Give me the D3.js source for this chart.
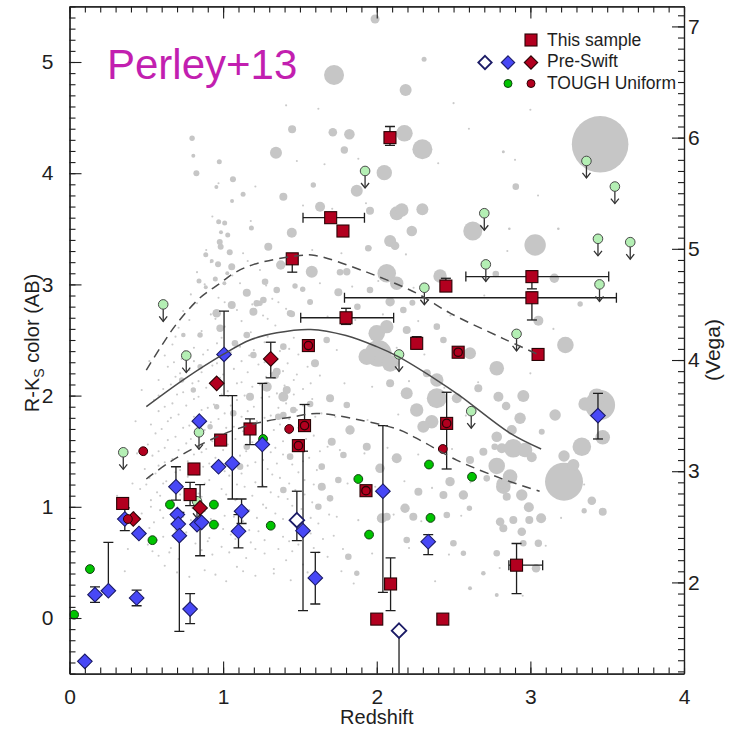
<!DOCTYPE html>
<html>
<head>
<meta charset="utf-8">
<script src="https://cdn.jsdelivr.net/npm/d3@7"></script>
<style>
  body { margin: 0; background: #fff; }
  svg { display: block; }
</style>
</head>
<body>
<svg id="chart" width="731" height="730"></svg>
<script>
// ---------- axis ticks ----------
const xTicks = [0, 1, 2, 3, 4];
const yTicks = [0, 1, 2, 3, 4, 5];
const vegaTicks = [2, 3, 4, 5, 6, 7];
const vegaOffset = 1.68;            // (R-K)Vega = (R-K)AB + offset

// ---------- legend ----------
const legendLabels = ["This sample", "Pre-Swift", "TOUGH Uniform"];

// ---------- GRB hosts: [z, colour, colourLo, colourHi, zLo, zHi, inTOUGH] ----------
const thisSample = [
  [0.346, 1.03, null, null, null, null, 0],
  [0.785, 1.11, 1.01, 1.22, null, null, 0],
  [0.81, 1.34, null, null, null, null, 0],
  [0.984, 1.60, null, null, null, null, 0],
  [1.175, 1.70, 1.56, 1.79, null, null, 0],
  [1.45, 3.23, 3.11, 3.27, null, null, 0],
  [1.49, 1.55, 1.50, 1.60, null, null, 1],
  [1.53, 1.73, 1.68, 1.92, null, null, 1],
  [1.555, 2.45, null, null, null, null, 1],
  [1.70, 3.60, null, null, 1.52, 1.92, 0],
  [1.78, 3.48, null, null, null, null, 0],
  [1.80, 2.70, 2.64, 2.785, 1.505, 2.11, 0],
  [1.93, 1.145, null, null, null, null, 1],
  [2.0, -0.01, null, null, null, null, 0],
  [2.086, 4.32, 4.25, 4.42, null, null, 0],
  [2.09, 0.306, 0.066, 0.54, null, null, 0],
  [2.26, 2.47, 2.42, 2.53, null, null, 0],
  [2.43, -0.01, null, null, null, null, 0],
  [2.45, 2.985, 2.94, 3.055, null, null, 0],
  [2.455, 1.75, 1.34, 2.03, null, null, 1],
  [2.53, 2.39, null, null, null, null, 1],
  [2.91, 0.475, 0.22, 0.67, 2.86, 3.08, 0],
  [3.01, 3.07, 2.96, 3.12, 2.58, 3.51, 0],
  [3.01, 2.88, 2.68, 2.93, 1.79, 3.56, 0],
  [3.05, 2.37, null, null, null, null, 0]
];

// Pre-Swift hosts: [z, colour, colourLo, colourHi]
const preSwiftBlue = [
  [0.10, -0.39], [0.166, 0.21, 0.14, 0.28], [0.253, 0.245, 0.245, 0.68],
  [0.437, 0.18, 0.11, 0.25], [0.36, 0.89, 0.785, 0.99], [0.452, 0.76],
  [0.693, 1.18, 1.06, 1.36], [0.702, 0.93], [0.708, 0.845],
  [0.715, 0.74, -0.12, 0.95], [0.785, 0.08, -0.05, 0.22], [0.83, 0.84],
  [0.86, 0.86], [0.845, 1.77], [0.97, 1.36], [1.006, 2.37, 2.0, 2.76],
  [1.06, 1.39, 1.07, 2.0], [1.12, 0.96, 0.85, 1.07], [1.10, 0.78, 0.63, 0.93],
  [1.255, 1.56, 1.18, 2.11], [1.52, 0.785, 0.066, 1.5], [1.60, 0.36, 0.126, 0.59],
  [2.04, 1.14, 0.23, 1.73], [2.335, 0.686, 0.57, 0.75], [3.44, 1.82, 1.61, 2.02]
];
const preSwiftOpen = [[1.48, 0.88, 0.695, 1.14], [2.145, -0.114, -0.7, -0.114]];
const preSwiftRed = [[0.415, 0.89], [0.85, 0.99, 0.56, 1.20], [0.958, 2.11], [1.31, 2.33, 2.16, 2.48]];

// TOUGH: detections, red (also in this sample) and upper limits
const toughGreen = [
  [0.03, 0.03], [0.133, 0.44], [0.54, 0.70], [0.654, 1.02], [0.94, 1.02], [0.94, 0.84],
  [1.26, 1.61], [1.31, 0.83], [1.88, 1.25], [1.95, 0.75], [2.34, 1.38], [2.35, 0.90], [2.62, 1.27]
];
const toughRed = [[0.38, 0.89], [0.48, 1.50], [1.43, 1.70], [2.43, 1.52]];
const toughLimits = [
  [0.35, 1.49], [0.61, 2.82], [0.76, 2.36], [0.843, 1.67], [0.83, 1.05], [1.924, 4.02],
  [2.145, 2.37], [2.31, 2.97], [2.615, 1.86], [2.70, 3.64], [2.71, 3.18], [2.91, 2.555],
  [3.365, 4.11], [3.44, 3.41], [3.45, 3.00], [3.55, 3.88], [3.65, 3.38]
];

// model colour tracks: [z, colour]
const trackMid = [[0.5,1.90],[0.75,2.15],[1.0,2.37],[1.175,2.50],[1.35,2.565],[1.57,2.595],[1.8,2.54],[2.0,2.44],[2.14,2.35],[2.39,2.14],[2.54,2.0],[2.87,1.66],[3.07,1.52]];
const trackHigh = [[0.5,2.23],[0.6,2.45],[0.7,2.65],[0.85,2.88],[0.98,3.01],[1.07,3.10],[1.2,3.18],[1.5,3.26],[1.6,3.26],[1.935,3.11],[2.26,2.92],[2.48,2.74],[2.82,2.515],[3.05,2.37]];
const trackLow = [[0.5,1.25],[0.65,1.40],[0.87,1.57],[1.07,1.69],[1.26,1.765],[1.46,1.81],[1.61,1.84],[1.89,1.78],[2.15,1.69],[2.30,1.585],[2.52,1.42],[2.82,1.25],[3.06,1.14]];

// field galaxies: [z, colour, size]
const fieldGalaxies = [
  [3.454,4.26,28.3],[3.219,1.226,19],[2.010,2.380,13.3],[3.454,1.915,15],[1.722,4.883,10],[1.989,5.387,4.5],
  [2.188,4.748,6],[2.308,5.024,2.5],[2.297,4.215,10],[2.180,4.359,8.3],[2.049,4.005,7.7],[1.870,3.843,6],
  [1.822,4.35,5.3],[1.714,4.368,4.3],[1.449,4.395,4],[1.344,4.184,6],[1.789,4.209,3.7],[1.392,3.789,4],
  [1.631,3.699,5],[1.956,3.663,4],[2.130,3.639,7],[2.163,3.669,6.7],[2.297,3.675,6],[2.228,3.480,5.3],
  [2.087,3.390,6],[2.119,3.348,4.3],[2.625,3.480,9.5],[1.447,3.465,5],[1.294,3.339,4],[1.945,3.325,3.3],
  [1.587,3.894,2.7],[2.065,3.100,9.3],[2.130,3.010,6.7],[1.577,3.114,6],[1.761,3.109,3.3],[1.805,3.114,3.7],
  [1.375,3.174,4.7],[1.273,3.024,3.3],[1.518,2.956,2.7],[1.468,2.986,2.7],[1.750,2.929,4],[1.956,2.950,3.3],
  [2.087,2.844,4.7],[2.232,2.835,3],[2.412,3.076,6.7],[1.874,2.799,3.3],[1.566,2.842,3],[1.219,2.830,3.3],
  [1.447,2.734,3.3],[2.0,2.560,8.3],[2.065,2.620,6.7],[1.935,2.350,8.3],[2.087,2.290,8.3],[2.195,2.590,4],
  [2.391,2.620,3.3],[2.781,2.246,7.3],[2.607,2.380,6],[1.674,2.500,3.3],[1.392,2.440,3.3],[1.598,2.290,4],
  [1.349,2.215,4],[1.262,2.860,3.3],[1.826,2.725,3],[2.173,2.770,3.3],[2.434,2.500,3.3],[2.326,2.201,4],
  [1.696,1.976,4],[1.566,1.924,3.3],[1.805,1.915,3.3],[2.087,2.111,4],[2.260,1.871,6.7],[2.195,2.021,6],
  [2.391,1.976,10],[2.358,1.765,6.7],[2.303,1.720,6],[2.521,1.976,5],[2.661,2.066,4],[2.781,1.367,8.3],
  [2.824,1.181,7.3],[2.814,1.526,5],[2.694,1.496,4],[2.607,1.421,4],[2.477,1.226,4.7],[2.564,1.106,4.7],
  [2.434,1.106,4],[2.271,1.136,4],[2.184,0.987,4.7],[2.238,0.911,4],[2.456,0.926,3.3],[2.499,0.672,3.3],
  [2.781,0.582,3.3],[2.564,0.582,2.7],[2.694,0.402,2.3],[2.607,0.267,2],[2.781,0.207,2],[2.195,0.701,3.3],
  [2.065,0.911,4],[2.021,1.346,4.7],[2.130,1.436,5],[1.935,1.540,4],[1.826,1.691,4.7],[1.707,1.585,4],
  [1.783,1.466,3.3],[1.642,1.361,3.3],[1.750,1.241,3.3],[1.696,1.076,3.3],[1.642,1.181,4],[1.620,1.001,3.3],
  [1.392,1.990,5],[1.284,2.080,5],[1.392,1.151,3.3],[1.815,0.551,3.3],[1.870,0.402,2.7],[2.033,0.897,5],
  [1.392,1.826,3.3],[2.781,1.630,5.3],[2.391,2.140,6.7],[2.905,3.879,3.3],[2.824,4.193,1.5],[3.031,3.354,10.7],
  [3.156,3.055,4.7],[2.775,3.094,3.3],[3.324,2.824,2.7],[3.052,2.674,5],[3.228,2.455,8.3],[2.954,1.996,6],
  [2.792,1.990,5],[3.432,1.990,8.3],[2.863,3.50,1.3],[3.182,3.50,1.3],[3.356,1.924,6.7],[3.471,1.625,7.3],
  [3.335,1.540,9.3],[3.280,1.376,6],[3.161,1.826,5.7],[3.219,1.457,5.7],[2.933,1.796,5.7],[2.842,1.906,4.3],
  [2.879,1.691,5],[2.889,1.526,9.3],[2.965,1.511,7.3],[3.009,1.445,5],[2.868,1.271,7.3],[2.814,1.211,5.3],
  [2.944,1.106,5.7],[2.846,1.091,4],[3.074,1.675,3],[2.990,0.996,5],[3.070,0.897,5],[2.993,0.881,4],
  [2.889,0.881,4],[2.803,0.866,4.3],[2.824,0.807,4],[2.944,0.776,4.3],[3.052,0.672,3.7],[3.037,0.447,4.3],
  [2.954,0.672,3.3],[3.400,1.055,4.3],[3.471,0.956,4],[3.350,0.965,2.7],[2.716,1.256,3.3],[2.768,1.540,3.3],
  [2.603,0.987,2.7],[1.154,2.925,4],[1.197,2.754,4],[0.958,2.740,4.3],[0.980,2.605,3.7],[1.056,2.815,4],
  [1.240,2.830,2.7],[1.436,2.740,3.3],[1.349,2.950,3.3],[1.175,1.990,4],[1.414,2.050,4],[1.338,2.185,4],
  [1.197,2.365,3.3],[1.154,2.545,3.3],[1.077,2.470,3.3],[0.806,2.050,2.7],[0.958,1.900,2.7],[1.066,1.841,3.3],
  [1.154,1.540,3.3],[1.359,1.810,3.3],[1.457,1.871,3.3],[1.436,1.451,3.3],[1.110,1.361,3.3],[0.915,1.720,2.7],
  [0.850,2.545,2.7],[0.741,2.545,2.3],[0.850,2.260,2.7],[0.730,2.140,2.7],[0.798,4.314,2.7],[0.806,4.157,2],
  [0.826,3.999,3],[0.975,4.103,2.5],[1.064,3.945,3],[0.956,3.876,2],[1.130,3.810,2.5],[1.058,3.750,2],
  [1.184,3.507,2.5],[0.971,3.564,2.5],[1.010,3.552,2.5],[0.986,3.469,2],[1.030,3.444,2.5],[0.978,3.381,3],
  [0.984,3.339,3],[1.043,3.289,3],[0.887,3.267,2.5],[0.926,3.210,2],[0.967,3.181,3],[1.056,3.159,3.5],
  [0.843,3.031,2.5],[0.949,3.049,2.5],[1.027,3.100,2],[1.008,3.010,2],[0.887,2.974,2]
];

// faint field population: "z colour" pairs
const fieldDotText = `
0.78 0.37 1.02 0.33 1.21 0.38 1.44 0.34 1.63 0.36
0.62 0.47 0.88 0.43 1.09 0.46 1.33 0.44 1.52 0.48 1.77 0.42
0.58 0.56 0.71 0.53 0.93 0.57 1.15 0.54 1.27 0.58 1.41 0.52 1.68 0.55
0.51 0.66 0.66 0.63 0.82 0.67 0.99 0.64 1.18 0.68 1.36 0.62 1.49 0.66 1.59 0.63
0.49 0.76 0.61 0.73 0.76 0.77 0.91 0.72 1.05 0.75 1.23 0.78 1.39 0.73 1.57 0.76 1.72 0.74
0.55 0.86 0.68 0.83 0.79 0.88 0.97 0.84 1.13 0.87 1.29 0.82 1.46 0.86 1.62 0.85
0.47 0.94 0.59 0.97 0.73 0.93 0.88 0.96 1.01 0.92 1.17 0.97 1.34 0.94 1.51 0.98 1.69 0.93
0.53 1.06 0.64 1.03 0.78 1.07 0.93 1.04 1.08 1.06 1.26 1.02 1.42 1.07 1.58 1.04
0.46 1.16 0.57 1.13 0.69 1.17 0.84 1.12 0.99 1.16 1.14 1.18 1.31 1.13 1.47 1.15 1.66 1.17
0.52 1.26 0.63 1.23 0.77 1.27 0.91 1.24 1.04 1.28 1.21 1.22 1.37 1.26 1.53 1.24
0.49 1.34 0.58 1.37 0.72 1.33 0.87 1.36 1.01 1.32 1.16 1.37 1.29 1.34 1.45 1.38 1.61 1.33
0.54 1.46 0.67 1.43 0.81 1.47 0.95 1.44 1.11 1.46 1.26 1.42 1.39 1.47 1.56 1.44
0.51 1.56 0.62 1.53 0.76 1.57 0.89 1.52 1.03 1.56 1.19 1.58 1.34 1.53 1.49 1.57 1.68 1.54
0.56 1.66 0.69 1.63 0.83 1.67 0.97 1.64 1.13 1.68 1.28 1.62 1.43 1.66 1.59 1.64
0.53 1.74 0.64 1.77 0.78 1.73 0.92 1.76 1.07 1.72 1.22 1.77 1.37 1.74 1.54 1.78
0.58 1.86 0.71 1.83 0.86 1.87 1.01 1.84 1.16 1.86 1.31 1.82 1.48 1.87 1.64 1.84
0.55 1.96 0.67 1.93 0.81 1.97 0.94 1.92 1.09 1.96 1.25 1.98 1.41 1.93 1.58 1.97
0.61 2.06 0.74 2.03 0.89 2.07 1.03 2.04 1.19 2.08 1.35 2.02 1.52 2.06
0.58 2.14 0.69 2.17 0.84 2.13 0.98 2.16 1.12 2.12 1.28 2.17 1.46 2.14 1.63 2.18
0.64 2.26 0.78 2.23 0.93 2.27 1.07 2.24 1.23 2.28 1.39 2.22 1.55 2.26
0.62 2.36 0.73 2.33 0.87 2.37 1.02 2.34 1.17 2.36 1.33 2.32 1.49 2.37
0.67 2.46 0.81 2.43 0.96 2.47 1.11 2.44 1.27 2.48 1.43 2.42
0.71 2.61 0.86 2.58 1.01 2.62 1.18 2.57 1.34 2.63
0.74 2.76 0.92 2.73 1.09 2.77 1.26 2.72 1.41 2.78
0.79 2.91 0.97 2.88 1.15 2.93 1.32 2.87
0.83 3.11 1.06 3.08 1.24 3.13 0.89 3.31 1.13 3.28 1.31 3.33
0.93 3.61 1.18 3.57 0.97 3.91 1.21 3.88
1.85 0.31 2.12 0.28 2.38 0.33 1.78 0.62 1.97 0.58 2.21 0.63 2.47 0.57
1.74 0.91 1.88 0.88 2.11 0.93 2.29 0.87 2.55 0.92 1.81 1.21 1.99 1.18 2.18 1.23 2.36 1.17 2.61 1.22
1.76 1.51 1.92 1.48 2.07 1.53 2.27 1.47 2.49 1.52 2.70 1.49 1.73 1.81 1.94 1.78 2.14 1.83 2.33 1.77 2.58 1.82
1.79 2.11 1.97 2.08 2.21 2.13 2.44 2.07 2.66 2.12 1.74 2.41 1.91 2.38 2.13 2.43 2.31 2.37 2.55 2.42
1.68 2.71 1.86 2.68 2.04 2.73 2.27 2.67 2.48 2.72 1.63 3.01 1.84 2.98 2.01 3.03 2.24 2.97
1.58 3.31 1.77 3.28 1.96 3.33 2.19 3.27 1.52 3.71 1.71 3.68 1.93 3.73
1.48 4.11 1.66 4.08 1.88 4.13 2.40 4.09 2.90 4.12 1.41 4.61 1.62 4.58 2.50 4.63 3.00 4.57
0.38 0.62 0.42 0.95 0.41 1.21 0.44 1.48 0.43 1.77 0.31 1.10 0.36 0.42 0.47 2.05 0.52 2.31
2.80 0.45 2.95 0.20 3.10 0.65 3.20 0.90 3.35 1.20 3.00 2.20 3.15 2.60 2.70 2.90 2.85 3.30 3.05 3.80 2.60 4.40
0.70 0.41 0.95 0.39 1.13 0.42 1.33 0.40 1.55 0.41
0.54 0.60 0.65 0.59 0.86 0.61 1.04 0.59 1.21 0.62 1.45 0.60 1.62 0.59
0.57 0.70 0.74 0.71 0.90 0.69 1.08 0.71 1.27 0.70 1.43 0.69 1.65 0.71
0.52 0.81 0.69 0.79 0.84 0.81 1.00 0.80 1.17 0.79 1.33 0.81 1.52 0.80
0.61 0.90 0.74 0.91 0.92 0.89 1.07 0.91 1.22 0.90 1.39 0.89 1.57 0.90
0.53 1.00 0.66 1.01 0.80 0.99 0.95 1.01 1.11 1.00 1.28 0.99 1.45 1.01 1.63 1.00
0.59 1.10 0.72 1.11 0.86 1.09 1.02 1.11 1.19 1.10 1.36 1.09 1.53 1.11
0.50 1.20 0.61 1.21 0.73 1.19 0.88 1.21 1.09 1.20 1.26 1.19 1.43 1.21 1.59 1.20
0.56 1.30 0.69 1.31 0.83 1.29 0.97 1.31 1.12 1.30 1.32 1.29 1.49 1.31
0.62 1.40 0.77 1.41 0.91 1.39 1.06 1.41 1.21 1.40 1.35 1.39 1.52 1.41
0.58 1.50 0.71 1.51 0.86 1.49 1.00 1.51 1.15 1.50 1.31 1.49 1.46 1.51 1.63 1.50
0.64 1.60 0.79 1.61 0.93 1.59 1.08 1.61 1.24 1.60 1.39 1.59 1.54 1.61
0.60 1.70 0.74 1.71 0.88 1.69 1.02 1.71 1.18 1.70 1.33 1.69 1.49 1.71
0.66 1.80 0.81 1.81 0.97 1.79 1.12 1.81 1.27 1.80 1.43 1.79 1.60 1.81
0.62 1.90 0.76 1.91 0.90 1.89 1.05 1.91 1.20 1.90 1.36 1.89 1.52 1.91
0.58 2.00 0.70 2.01 0.84 1.99 0.99 2.01 1.14 2.00 1.30 1.99 1.46 2.01
0.66 2.10 0.80 2.11 0.94 2.09 1.09 2.11 1.24 2.10 1.40 2.09 1.57 2.11
0.72 2.20 0.86 2.21 1.00 2.19 1.16 2.21 1.31 2.20 1.48 2.19
0.68 2.30 0.81 2.31 0.96 2.29 1.12 2.31 1.27 2.30 1.42 2.29
0.75 2.40 0.90 2.41 1.05 2.39 1.20 2.41 1.37 2.40
0.69 2.53 0.84 2.54 0.99 2.52 1.14 2.54 1.29 2.53 1.46 2.52
0.78 2.68 0.95 2.69 1.12 2.67 1.29 2.69
0.83 2.83 1.01 2.84 1.19 2.82 1.36 2.84
0.88 3.00 1.11 3.01 1.28 2.99 0.92 3.20 1.16 3.21
`;

// ---------- drawing ----------
const W = 731, H = 730;
const frame = { left: 69.5, right: 684, top: 6.4, bottom: 673.6 };
const FONT = "'Liberation Sans', Arial, Helvetica, sans-serif";
const RED = "#b2001f", RED_EDGE = "#2a0305";
const BLUE = "#4848f6", BLUE_EDGE = "#1b1b66";
const GREEN = "#00c400", GREEN_EDGE = "#124012";
const PALE = "#b4efb4", PALE_EDGE = "#4a4a4a";
const GREY = "#c6c6c6";
const INK = "#1e1e1e";

const x = d3.scaleLinear().domain([0, 4]).range([frame.left, frame.right]);
const y = d3.scaleLinear().domain([-0.5, 5.5]).range([frame.bottom, frame.top]);
const yVega = d3.scaleLinear().domain(y.domain().map(v => v + vegaOffset)).range([frame.bottom, frame.top]);
const rSize = d3.scaleLinear().domain([0, 30]).range([0, 30]);

const svg = d3.select("#chart");
svg.append("rect").attr("width", W).attr("height", H).attr("fill", "#fff");

svg.append("defs").append("clipPath").attr("id", "plotArea")
  .append("rect").attr("x", frame.left).attr("y", frame.top)
  .attr("width", frame.right - frame.left).attr("height", frame.bottom - frame.top);

const plot = svg.append("g").attr("clip-path", "url(#plotArea)");

// faint field population
const nums = fieldDotText.trim().split(/\s+/).map(Number);
const fieldDots = d3.range(0, nums.length, 2).map(i => [nums[i], nums[i + 1]]);
plot.append("g").selectAll("circle").data(fieldDots).join("circle")
  .attr("cx", d => x(d[0])).attr("cy", d => y(d[1])).attr("r", 1.05).attr("fill", "#cacaca");

// field galaxies sized by their weight
plot.append("g").selectAll("circle").data(fieldGalaxies).join("circle")
  .attr("cx", d => x(d[0])).attr("cy", d => y(d[1])).attr("r", d => rSize(d[2])).attr("fill", GREY);

// error bars
const errG = plot.append("g").attr("stroke", INK).attr("stroke-width", 1.3).attr("fill", "none");
const CAP = 5;
function vBar(z, lo, hi) {
  if (lo == null || hi == null) return;
  const px = x(z);
  errG.append("line").attr("x1", px).attr("x2", px).attr("y1", y(lo)).attr("y2", y(hi));
  [lo, hi].forEach(v => errG.append("line").attr("x1", px - CAP).attr("x2", px + CAP).attr("y1", y(v)).attr("y2", y(v)));
}
function hBar(c, lo, hi) {
  if (lo == null || hi == null) return;
  const py = y(c);
  errG.append("line").attr("x1", x(lo)).attr("x2", x(hi)).attr("y1", py).attr("y2", py);
  [lo, hi].forEach(v => errG.append("line").attr("x1", x(v)).attr("x2", x(v)).attr("y1", py - CAP).attr("y2", py + CAP));
}
preSwiftBlue.forEach(d => vBar(d[0], d[2], d[3]));
preSwiftOpen.forEach(d => vBar(d[0], d[2], d[3]));
preSwiftRed.forEach(d => vBar(d[0], d[2], d[3]));
thisSample.forEach(d => { vBar(d[0], d[2], d[3]); hBar(d[1], d[4], d[5]); });

// marker shapes
function square(g, cx, cy, s) {
  g.append("rect").attr("x", cx - s / 2).attr("y", cy - s / 2).attr("width", s).attr("height", s)
    .attr("fill", RED).attr("stroke", RED_EDGE).attr("stroke-width", 1.1);
}
function diamond(g, cx, cy, h, fill, edge, sw) {
  g.append("path").attr("d", `M${cx},${cy - h}L${cx + h},${cy}L${cx},${cy + h}L${cx - h},${cy}Z`)
    .attr("fill", fill).attr("stroke", edge).attr("stroke-width", sw);
}
function dot(g, cx, cy, r, fill, edge, sw = 1) {
  g.append("circle").attr("cx", cx).attr("cy", cy).attr("r", r)
    .attr("fill", fill).attr("stroke", edge).attr("stroke-width", sw);
}
function limit(g, cx, cy) {
  g.append("line").attr("x1", cx).attr("x2", cx).attr("y1", cy).attr("y2", cy + 17)
    .attr("stroke", "#333").attr("stroke-width", 1.3);
  g.append("path").attr("d", `M${cx - 4},${cy + 12}L${cx},${cy + 17}L${cx + 4},${cy + 12}`)
    .attr("fill", "none").attr("stroke", "#333").attr("stroke-width", 1.3);
  dot(g, cx, cy, 4.8, PALE, PALE_EDGE);
}

const marks = plot.append("g");
toughLimits.forEach(d => limit(marks, x(d[0]), y(d[1])));
toughGreen.forEach(d => dot(marks, x(d[0]), y(d[1]), 4.4, GREEN, GREEN_EDGE));
preSwiftBlue.forEach(d => diamond(marks, x(d[0]), y(d[1]), 7.3, BLUE, BLUE_EDGE, 1.1));
preSwiftOpen.forEach(d => diamond(marks, x(d[0]), y(d[1]), 7.3, "#fff", BLUE_EDGE, 1.8));
preSwiftRed.forEach(d => diamond(marks, x(d[0]), y(d[1]), 7.3, RED, RED_EDGE, 1.1));
toughRed.forEach(d => dot(marks, x(d[0]), y(d[1]), 4.4, RED, RED_EDGE));
thisSample.forEach(d => {
  square(marks, x(d[0]), y(d[1]), 12);
  if (d[6]) dot(marks, x(d[0]), y(d[1]), 4.2, RED, RED_EDGE, 1.3);
});

// model colour tracks
const track = d3.line().x(d => x(d[0])).y(d => y(d[1])).curve(d3.curveCatmullRom.alpha(0.5));
const tracks = plot.append("g").attr("fill", "none").attr("stroke", "#4a4a4a").attr("stroke-width", 1.5);
tracks.append("path").attr("d", track(trackMid));
tracks.append("path").attr("d", track(trackHigh)).attr("stroke-dasharray", "9,6");
tracks.append("path").attr("d", track(trackLow)).attr("stroke-dasharray", "9,6");

// axes with inward ticks
function finish(g) {
  g.selectAll("path.domain").attr("stroke", INK).attr("stroke-width", 1.2);
  g.selectAll(".tick line").attr("stroke", INK).attr("stroke-width", 1.1);
  g.selectAll(".tick text").attr("font-family", FONT).attr("font-size", 21).attr("fill", INK);
}
const minorZ = d3.range(0, 41).map(i => i / 10);
const minorAB = d3.range(-5, 56).map(i => i / 10);
const minorVega = d3.range(12, 72).map(i => i / 10);
const none = () => "";

svg.append("g").attr("transform", `translate(0,${frame.bottom})`)
  .call(d3.axisBottom(x).tickValues(minorZ).tickSize(-6).tickSizeOuter(0).tickFormat(none)).call(finish);
svg.append("g").attr("transform", `translate(0,${frame.bottom})`)
  .call(d3.axisBottom(x).tickValues(xTicks).tickSize(-12).tickSizeOuter(0).tickPadding(15).tickFormat(d3.format("d"))).call(finish);
svg.append("g").attr("transform", `translate(0,${frame.top})`)
  .call(d3.axisTop(x).tickValues(minorZ).tickSize(-6).tickSizeOuter(0).tickFormat(none)).call(finish);
svg.append("g").attr("transform", `translate(0,${frame.top})`)
  .call(d3.axisTop(x).tickValues(xTicks).tickSize(-12).tickSizeOuter(0).tickFormat(none)).call(finish);
svg.append("g").attr("transform", `translate(${frame.left},0)`)
  .call(d3.axisLeft(y).tickValues(minorAB).tickSize(-6).tickSizeOuter(0).tickFormat(none)).call(finish);
svg.append("g").attr("transform", `translate(${frame.left},0)`)
  .call(d3.axisLeft(y).tickValues(yTicks).tickSize(-12).tickSizeOuter(0).tickPadding(16).tickFormat(d3.format("d"))).call(finish);
svg.append("g").attr("transform", `translate(${frame.right},0)`)
  .call(d3.axisRight(yVega).tickValues(minorVega).tickSize(-6).tickSizeOuter(0).tickFormat(none)).call(finish);
svg.append("g").attr("transform", `translate(${frame.right},0)`)
  .call(d3.axisRight(yVega).tickValues(vegaTicks).tickSize(-12).tickSizeOuter(0).tickPadding(4).tickFormat(d3.format("d"))).call(finish);

// axis titles
svg.append("text").attr("x", (frame.left + frame.right) / 2).attr("y", 724)
  .attr("text-anchor", "middle").attr("font-family", FONT).attr("font-size", 20).attr("fill", INK)
  .text("Redshift");
const yt = svg.append("text").attr("transform", "translate(39,343) rotate(-90)")
  .attr("text-anchor", "middle").attr("font-family", FONT).attr("font-size", 20).attr("fill", INK);
yt.append("tspan").text("R-K");
yt.append("tspan").attr("font-size", 14).attr("dy", 5).text("S");
yt.append("tspan").attr("dy", -5).text(" color (AB)");
svg.append("text").attr("transform", "translate(720,350) rotate(-90)")
  .attr("text-anchor", "middle").attr("font-family", FONT).attr("font-size", 21).attr("fill", INK)
  .text("(Vega)");

// tag
svg.append("text").attr("x", 107).attr("y", 79).attr("font-family", FONT).attr("font-size", 42)
  .attr("fill", "#c21fb0").text("Perley+13");

// legend
const lg = svg.append("g");
square(lg, 531, 40, 12);
diamond(lg, 485, 62.5, 6.7, "#fff", BLUE_EDGE, 1.8);
diamond(lg, 508, 62.5, 6.7, BLUE, BLUE_EDGE, 1.1);
diamond(lg, 531, 62.5, 6.7, RED, RED_EDGE, 1.1);
dot(lg, 508, 83.5, 4, GREEN, GREEN_EDGE);
dot(lg, 531, 83.5, 4, RED, RED_EDGE);
[45.5, 67, 89].forEach((ly, i) => {
  lg.append("text").attr("x", 547).attr("y", ly).attr("font-family", FONT).attr("font-size", 17.5)
    .attr("fill", INK).text(legendLabels[i]);
});
</script>
</body>
</html>
